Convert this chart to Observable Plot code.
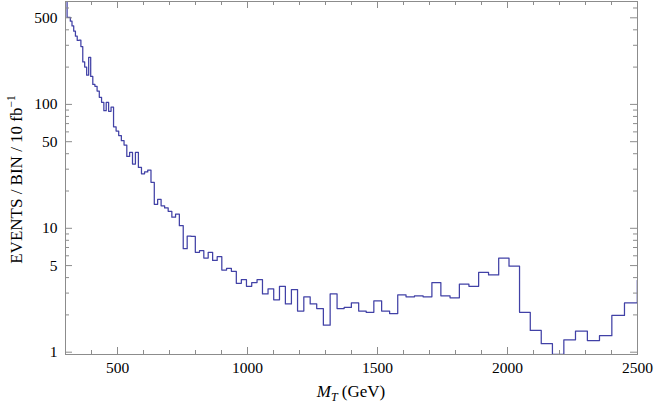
<!DOCTYPE html>
<html><head><meta charset="utf-8">
<script src="https://cdn.jsdelivr.net/npm/d3@7"></script>
<script src="https://cdn.jsdelivr.net/npm/@observablehq/plot@0.6"></script>
<style>body{margin:0;background:#fff} svg{display:block}</style>
</head><body><div id="chart"></div>
<script>
// Bin edges (GeV) of the M_T histogram
const binEdges = [300.0, 306.1, 312.2, 318.5, 325.0, 331.6, 338.2, 345.1, 352.1, 359.2, 366.4, 373.8, 381.4, 389.1, 396.9, 405.0, 413.1, 421.5, 430.0, 438.7, 447.5, 456.6, 465.8, 475.2, 484.8, 494.6, 504.6, 514.8, 525.2, 535.8, 546.6, 557.7, 568.9, 580.4, 592.2, 604.1, 616.3, 628.8, 641.5, 654.4, 667.7, 681.2, 694.9, 709.0, 723.3, 737.9, 752.8, 768.0, 783.5, 799.3, 815.5, 832.0, 848.8, 865.9, 883.4, 901.2, 919.5, 938.0, 957.0, 976.3, 996.0, 1016.2, 1036.7, 1057.6, 1079.0, 1100.8, 1123.0, 1145.7, 1168.9, 1192.5, 1216.6, 1241.1, 1266.2, 1291.8, 1317.9, 1344.5, 1371.7, 1399.4, 1427.6, 1456.5, 1485.9, 1515.9, 1546.6, 1577.8, 1609.7, 1642.2, 1675.4, 1709.2, 1743.7, 1779.0, 1814.9, 1851.6, 1889.0, 1927.1, 1966.1, 2005.8, 2046.3, 2087.6, 2129.8, 2172.8, 2216.7, 2261.5, 2307.2, 2353.8, 2401.3, 2449.9, 2499.3, 2549.8];

// Events per bin / 10 fb^-1
const eventsPerBin = [
  720, 505, 505, 470, 430, 390, 355, 328, 330, 293,
  220, 200, 172, 240, 168, 145, 140, 128, 114, 104,
  89, 104, 88, 95, 66, 61, 56, 51, 47, 38,
  41, 33, 41, 31, 27.5, 28.5, 29.5, 23.5, 15.6, 17.1,
  15.2, 14.6, 13.7, 12.3, 13.0, 10.5, 6.85, 8.65, 8.6, 6.4,
  6.6, 5.75, 6.4, 5.5, 5.9, 4.6, 4.75, 4.5, 3.6, 3.85,
  3.4, 3.65, 3.85, 2.95, 3.25, 2.65, 3.4, 2.45, 3.2, 2.15,
  2.8, 2.45, 2.25, 1.65, 2.95, 2.25, 2.3, 2.5, 2.15, 2.1,
  2.6, 2.15, 2.05, 2.9, 2.8, 2.85, 2.8, 3.65, 2.85, 2.75,
  3.55, 3.4, 4.4, 4.2, 5.75, 4.95, 2.1, 1.5, 1.17, 0.96,
  1.26, 1.48, 1.24, 1.36, 1.98, 2.5, 3.8
];

const xMajorTicks = [500, 1000, 1500, 2000, 2500];
const xMinorTicks = [400, 600, 700, 800, 900, 1100, 1200, 1300, 1400, 1600, 1700, 1800, 1900, 2100, 2200, 2300, 2400];
const yMajorTicks = [1, 5, 10, 50, 100, 500];
const yMinorTicks = [2, 3, 4, 6, 7, 8, 9, 20, 30, 40, 60, 70, 80, 90, 200, 300, 400, 600];

const steps = binEdges.map((x, i) => ({x, y: eventsPerBin[Math.min(i, eventsPerBin.length - 1)]}));

const W = 654, H = 406, mL = 65, mR = 17, mT = 1, mB = 52;
const innerW = W - mL - mR, innerH = H - mT - mB;
const frameColor = "#8c8c8c";
const font = "Liberation Serif";

const chart = Plot.plot({
  width: W, height: H,
  marginLeft: mL, marginRight: mR, marginTop: mT, marginBottom: mB,
  style: {fontFamily: font, fontSize: "15.5px", color: "#000", background: "#fff"},
  x: {domain: [300, 2500], axis: null},
  y: {type: "log", domain: [0.958, 677], axis: null},
  marks: [
    Plot.line(steps, {x: "x", y: "y", curve: "step-after", stroke: "#4141a6", strokeWidth: 1.25, clip: true}),
    Plot.frame({stroke: frameColor}),
    // bottom / top ticks
    Plot.tickX(xMajorTicks, {x: d => d, insetTop: innerH - 7, stroke: frameColor}),
    Plot.tickX(xMinorTicks, {x: d => d, insetTop: innerH - 4, stroke: frameColor}),
    Plot.tickX(xMajorTicks, {x: d => d, insetBottom: innerH - 7, stroke: frameColor}),
    Plot.tickX(xMinorTicks, {x: d => d, insetBottom: innerH - 4, stroke: frameColor}),
    // left / right ticks
    Plot.tickY(yMajorTicks, {y: d => d, insetRight: innerW - 7, stroke: frameColor}),
    Plot.tickY(yMinorTicks, {y: d => d, insetRight: innerW - 4, stroke: frameColor}),
    Plot.tickY(yMajorTicks, {y: d => d, insetLeft: innerW - 7, stroke: frameColor}),
    Plot.tickY(yMinorTicks, {y: d => d, insetLeft: innerW - 4, stroke: frameColor}),
    // tick labels
    Plot.text(xMajorTicks, {x: d => d, text: d => String(d), frameAnchor: "bottom", lineAnchor: "top", dy: 7,
      fontFamily: font, fontSize: 15.5, fill: "#000"}),
    Plot.text(yMajorTicks, {y: d => d, text: d => String(d), frameAnchor: "left", textAnchor: "end", dx: -8,
      fontFamily: font, fontSize: 15.5, fill: "#000"})
  ]
});

document.getElementById("chart").appendChild(chart);

const svg = d3.select(chart);
const xl = svg.append("text")
  .attr("x", (mL + W - mR) / 2).attr("y", 397)
  .attr("text-anchor", "middle").style("font-family", font).style("font-size", "17px").attr("fill", "#000");
xl.append("tspan").style("font-style", "italic").text("M");
xl.append("tspan").style("font-style", "italic").style("font-size", "12px").attr("dy", 4).text("T");
xl.append("tspan").attr("dy", -4).text(" (GeV)");

const yl = svg.append("text")
  .attr("transform", `translate(22, ${(mT + H - mB) / 2 + 2}) rotate(-90)`)
  .attr("text-anchor", "middle").style("font-family", font).style("font-size", "17px").attr("fill", "#000");
yl.append("tspan").text("EVENTS / BIN / 10 fb");
yl.append("tspan").style("font-size", "11.5px").attr("dy", -7).text("\u22121");
</script>
</body></html>
